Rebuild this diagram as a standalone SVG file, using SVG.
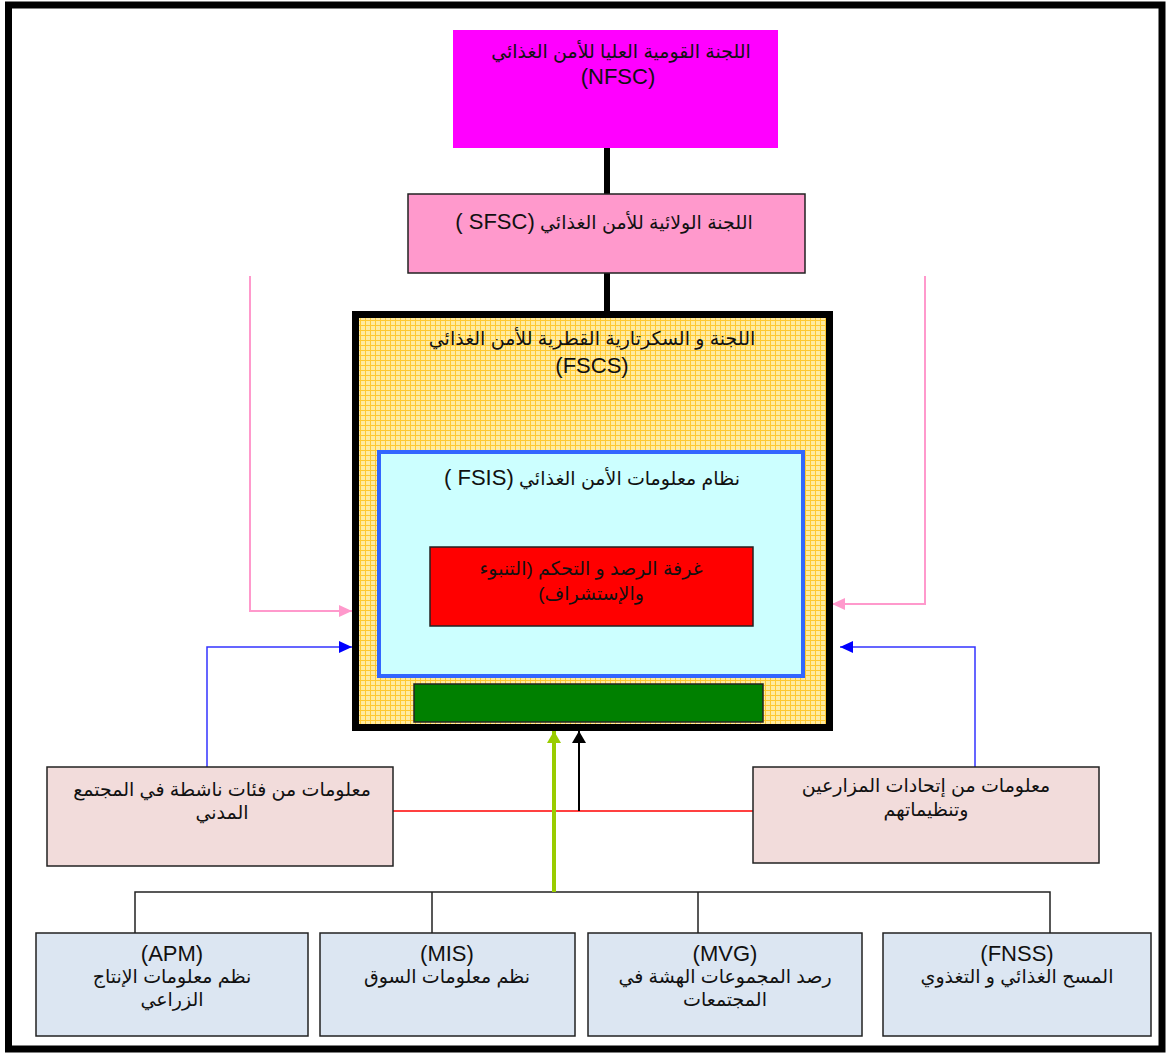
<svg xmlns="http://www.w3.org/2000/svg" width="1166" height="1054" viewBox="0 0 1166 1054">
<style>
text{font-family:"Liberation Sans","DejaVu Sans",sans-serif;fill:#111;text-anchor:middle}
.ar{font-size:19px;direction:rtl}
.la{font-size:22px}
.box{stroke:#222;stroke-width:1.5}
.bot{fill:#DCE6F2;stroke:#222;stroke-width:1.5}
.civ{fill:#F2DCDB;stroke:#222;stroke-width:1.5}
.ln{fill:none}
</style>
<defs>
<pattern id="grid" width="5" height="5" patternUnits="userSpaceOnUse">
<rect width="5" height="5" fill="#FFEBA0"/>
<path d="M0,0.5H5M0.5,0V5" stroke="#FFC830" stroke-width="1"/>
</pattern>
<marker id="aPink" markerUnits="userSpaceOnUse" markerWidth="13" markerHeight="12" refX="13" refY="6" orient="auto"><path d="M0,0L13,6L0,12z" fill="#FF99CC"/></marker>
<marker id="aBlue" markerUnits="userSpaceOnUse" markerWidth="13" markerHeight="12" refX="13" refY="6" orient="auto"><path d="M0,0L13,6L0,12z" fill="#0000FF"/></marker>
<marker id="aGreen" markerUnits="userSpaceOnUse" markerWidth="12" markerHeight="14" refX="12" refY="7" orient="auto"><path d="M0,0L12,7L0,14z" fill="#99CC00"/></marker>
<marker id="aBlack" markerUnits="userSpaceOnUse" markerWidth="12" markerHeight="14" refX="12" refY="7" orient="auto"><path d="M0,0L12,7L0,14z" fill="#000"/></marker>
</defs>
<rect width="1166" height="1054" fill="#fff"/>
<rect x="8.5" y="5" width="1153.5" height="1044" fill="none" stroke="#000" stroke-width="7"/>

<g id="connectors">
<path d="M607,148V194M607,273V312" stroke="#000" stroke-width="6"/>
<path class="ln" d="M250,276V611H352" stroke="#FF99CC" stroke-width="2" marker-end="url(#aPink)"/>
<path class="ln" d="M925,276V604H832" stroke="#FF99CC" stroke-width="2" marker-end="url(#aPink)"/>
<path class="ln" d="M207,767V647H352" stroke="#3333FF" stroke-width="1.5" marker-end="url(#aBlue)"/>
<path class="ln" d="M975,767V647H840" stroke="#3333FF" stroke-width="1.5" marker-end="url(#aBlue)"/>
<path class="ln" d="M393,811H753" stroke="#FF0000" stroke-width="1.5"/>
<path class="ln" d="M579,811V731" stroke="#000" stroke-width="2" marker-end="url(#aBlack)"/>
<path class="ln" d="M135,933V892H1050V933M432,892V933M698,892V933" stroke="#222" stroke-width="1.5"/>
<path class="ln" d="M554,892V731" stroke="#99CC00" stroke-width="4" marker-end="url(#aGreen)"/>
</g>

<g id="nfsc">
<rect x="453" y="30" width="325" height="118" fill="#FF00FF"/>
<text class="ar" x="621" y="58">اللجنة القومية العليا للأمن الغذائي</text>
<text class="la" x="618" y="84">(NFSC)</text>
</g>

<g id="sfsc">
<rect class="box" x="408" y="194" width="397" height="79" fill="#FF99CC"/>
<text class="ar" x="604" y="229">اللجنة الولائية للأمن الغذائي <tspan class="la">(SFSC )</tspan></text>
</g>

<g id="fscs">
<rect x="355.5" y="314.5" width="474" height="413" fill="url(#grid)" stroke="#000" stroke-width="7"/>
<text class="ar" x="592" y="345">اللجنة و السكرتارية القطرية للأمن الغذائي</text>
<text class="la" x="592" y="373">(FSCS)</text>
</g>

<g id="fsis">
<rect x="379" y="452" width="424" height="224" fill="#CCFFFF" stroke="#3366FF" stroke-width="4"/>
<text class="ar" x="592" y="485">نظام معلومات الأمن الغذائي <tspan class="la">(FSIS )</tspan></text>
</g>

<g id="monitor">
<rect class="box" x="430" y="547" width="323" height="79" fill="#FF0000"/>
<text class="ar" x="591" y="575">غرفة الرصد و التحكم (التنبوء</text>
<text class="ar" x="591" y="600">والإستشراف)</text>
</g>

<g id="green">
<rect class="box" x="414" y="684" width="349" height="38" fill="#008000"/>
</g>

<g id="civil">
<rect class="civ" x="47" y="767" width="346" height="99"/>
<text class="ar" x="222" y="796">معلومات من فئات ناشطة في المجتمع</text>
<text class="ar" x="222" y="819">المدني</text>
</g>

<g id="farmers">
<rect class="civ" x="753" y="767" width="346" height="96"/>
<text class="ar" x="926" y="792">معلومات من إتحادات المزارعين</text>
<text class="ar" x="926" y="816">وتنظيماتهم</text>
</g>

<g id="apm">
<rect class="bot" x="36" y="933" width="272" height="103"/>
<text class="la" x="172" y="961">(APM)</text>
<text class="ar" x="172" y="983">نظم معلومات الإنتاج</text>
<text class="ar" x="172" y="1006">الزراعي</text>
</g>

<g id="mis">
<rect class="bot" x="320" y="933" width="255" height="103"/>
<text class="la" x="447" y="961">(MIS)</text>
<text class="ar" x="447" y="983">نظم معلومات السوق</text>
</g>

<g id="mvg">
<rect class="bot" x="588" y="933" width="274" height="103"/>
<text class="la" x="725" y="961">(MVG)</text>
<text class="ar" x="725" y="983">رصد المجموعات الهشة في</text>
<text class="ar" x="725" y="1006">المجتمعات</text>
</g>

<g id="fnss">
<rect class="bot" x="883" y="933" width="268" height="103"/>
<text class="la" x="1017" y="961">(FNSS)</text>
<text class="ar" x="1017" y="983">المسح الغذائي و التغذوي</text>
</g>
</svg>
